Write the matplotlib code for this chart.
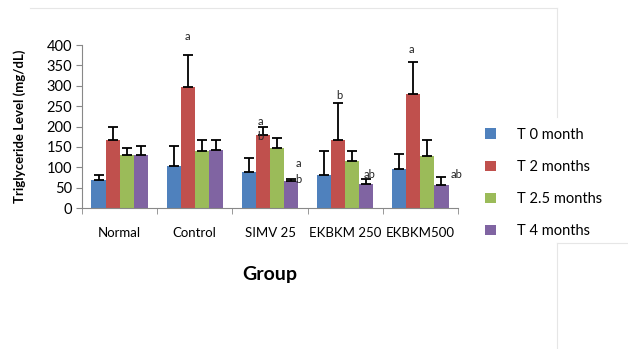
import numpy as np
import matplotlib
matplotlib.use("Agg")
import matplotlib.pyplot as plt
from matplotlib.patches import Patch

plt.rcParams['font.family'] = ['Lato', 'DejaVu Sans']

# chart data
groups = ["Normal", "Control", "SIMV 25", "EKBKM 250", "EKBKM500"]
series_names = ["T 0 month", "T 2 months", "T 2.5 months", "T 4 months"]
t0 = [68, 103, 88, 82, 96]
t2 = [168, 298, 180, 167, 281]
t25 = [130, 140, 147, 115, 127]
t4 = [130, 143, 67, 58, 57]
t0_err = [12, 49, 35, 58, 37]
t2_err = [32, 78, 20, 90, 77]
t25_err = [18, 28, 26, 25, 41]
t4_err = [23, 23, 5, 12, 18]

# significance letters: (group index, series index, text, y value, x shift)
letters = [
    (1, 1, "a", 420, 0.0),
    (2, 1, "a", 212, -0.04),
    (2, 1, "b", 175, -0.04),
    (2, 3, "a", 110, 0.10),
    (2, 3, "b", 71, 0.10),
    (3, 1, "b", 277, 0.02),
    (3, 3, "ab", 83, 0.05),
    (4, 1, "a", 390, -0.03),
    (4, 3, "ab", 83, 0.20),
]

colors = ["#4F81BD", "#C0504D", "#9BBB59", "#8064A2"]
values = [t0, t2, t25, t4]
errors = [t0_err, t2_err, t25_err, t4_err]

fig = plt.figure(figsize=(6.28, 3.49), dpi=100)
ax = fig.add_axes([0.1306, 0.404, 0.5987, 0.467])

x = np.arange(len(groups))
w = 0.187
offsets = [-1.5 * w, -0.5 * w, 0.5 * w, 1.5 * w]
for vals, errs, col, off in zip(values, errors, colors, offsets):
    ax.bar(x + off, vals, width=w, color=col, edgecolor='none', zorder=2)
    ax.errorbar(x + off, vals, yerr=[np.zeros(len(errs)), errs], fmt='none',
                ecolor='black', elinewidth=1.3, capsize=3.5, capthick=1.3, zorder=3)

for gi, si, txt, yv, dx in letters:
    ax.text(x[gi] + offsets[si] + dx, yv, txt, ha='center', va='center',
            fontsize=8, color='#222222', zorder=4)

ax.set_xlim(-0.5, len(groups) - 0.5)
ax.set_ylim(0, 400)
ax.set_yticks(range(0, 401, 50))
ax.tick_params(axis='y', labelsize=10.5, length=4, color='#888888', pad=3)
ax.set_xticks(x)
ax.set_xticklabels(groups, fontsize=9.5)
ax.tick_params(axis='x', length=0, pad=14)
ax.set_xticks(np.arange(-0.5, len(groups)), minor=True)
ax.tick_params(axis='x', which='minor', length=4, color='#888888')
for s in ['top', 'right']:
    ax.spines[s].set_visible(False)
for s in ['left', 'bottom']:
    ax.spines[s].set_color('#888888')
ax.set_ylabel("Triglyceride Level (mg/dL)", fontsize=9.5, fontweight='bold', labelpad=15)
ax.set_xlabel("Group", fontsize=14, fontweight='bold', labelpad=19)

handles = [Patch(facecolor=c, edgecolor='none') for c in colors]
fig.legend(handles, series_names, loc='upper left', bbox_to_anchor=(0.752, 0.672),
           frameon=False, fontsize=10.5, handlelength=0.7, handleheight=0.7,
           handletextpad=1.5, labelspacing=1.25)

# faint frame lines from the source screenshot
line_kw = dict(color='#e6e6e6', lw=0.8, transform=fig.transFigure)
fig.add_artist(plt.Line2D([30 / 628, 557 / 628], [1 - 8 / 349, 1 - 8 / 349], **line_kw))
fig.add_artist(plt.Line2D([557 / 628, 557 / 628], [1 - 8 / 349, 1 - 117 / 349], **line_kw))
fig.add_artist(plt.Line2D([557 / 628, 628 / 628], [1 - 243 / 349, 1 - 243 / 349], **line_kw))
fig.add_artist(plt.Line2D([557 / 628, 557 / 628], [1 - 243 / 349, 0], **line_kw))

fig.savefig("out.png", dpi=100)
